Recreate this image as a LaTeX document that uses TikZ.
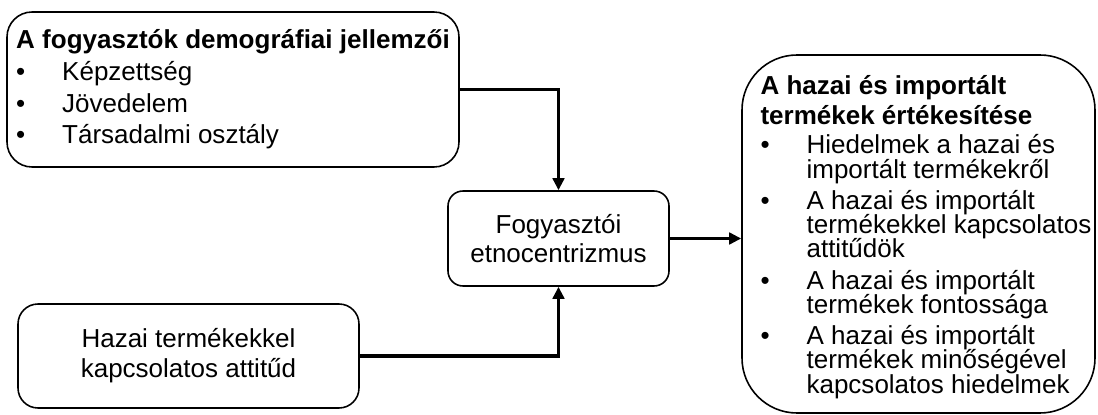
\documentclass[tikz,border=0pt]{standalone}
\usepackage{fontspec}
\setmainfont{Liberation Sans}
\usetikzlibrary{arrows.meta, positioning, calc}
\tikzset{
	roundbox/.style={draw=black, line width=0.9pt, rounded corners=#1, inner sep=1pt, align=left},
	roundbox/.default=0.4cm,
	bodytext/.style={font=\fontsize{14.8pt}{18pt}\selectfont},
	listtext/.style={inner sep=0pt, align=left, font=\fontsize{14.8pt}{13.8pt}\selectfont},
	flowline/.style={line width=2.2pt, -{Triangle[length=0.24cm, width=0.23cm]}}
}
\newcommand{\bulitem}[1]{\makebox[0.92cm][l]{\textbullet}#1}
\newcommand{\contline}[1]{\hspace*{0.92cm}#1}

\begin{document}
\lineskiplimit=-20pt\relax
\lineskip=0pt\relax
\begin{tikzpicture}

			\useasboundingbox (0,0) rectangle (21.96,8.28);

			\coordinate (cDemo) at (4.66,6.49);
			\coordinate (cEtno) at (11.17,3.51);
			\coordinate (cHazai) at (3.77,1.16);
			\coordinate (cErtek) at (18.37,3.6);

			\begin{scope}[bodytext]
				\node[roundbox=0.5cm, minimum width=9.04cm, minimum height=3.1cm] (demo) at (cDemo) {%
					\textbf{A fogyasztók demográfiai jellemzői}\\
					\bulitem{Képzettség}\\
					\bulitem{Jövedelem}\\
					\bulitem{Társadalmi osztály}};

				\node[roundbox=0.3cm, align=center, minimum width=4.42cm, minimum height=1.9cm,
					font=\fontsize{14.8pt}{16.5pt}\selectfont] (etno) at (cEtno) {Fogyasztói\\etnocentrizmus};

				\node[roundbox=0.4cm, align=center, minimum width=6.82cm, minimum height=2.08cm,
					font=\fontsize{14.8pt}{17pt}\selectfont] (hazai) at (cHazai) {Hazai termékekkel\\kapcsolatos attitűd};

				\node[roundbox=1.1cm, minimum width=7.06cm, minimum height=7.16cm] (ertek) at (cErtek) {};
			\end{scope}

			\node[listtext, right=0.38cm of ertek.west, yshift=-0.06cm] (ertektext) {%
				\textbf{A hazai és importált}\\[0.12cm]
				\textbf{termékek értékesítése}\\[0.1cm]
				\bulitem{Hiedelmek a hazai és}\\
				\contline{importált termékekről}\\[0.14cm]
				\bulitem{A hazai és importált}\\
				\contline{termékekkel kapcsolatos}\\
				\contline{attitűdök}\\[0.14cm]
				\bulitem{A hazai és importált}\\
				\contline{termékek fontossága}\\[0.14cm]
				\bulitem{A hazai és importált}\\
				\contline{termékek minőségével}\\
				\contline{kapcsolatos hiedelmek}};

			\draw[flowline] (demo.east) -| (etno.north);
			\draw[flowline] (hazai.east) -| (etno.south);
			\draw[flowline] (etno.east) -- (etno.east -| ertek.west);

\end{tikzpicture}
\end{document}
